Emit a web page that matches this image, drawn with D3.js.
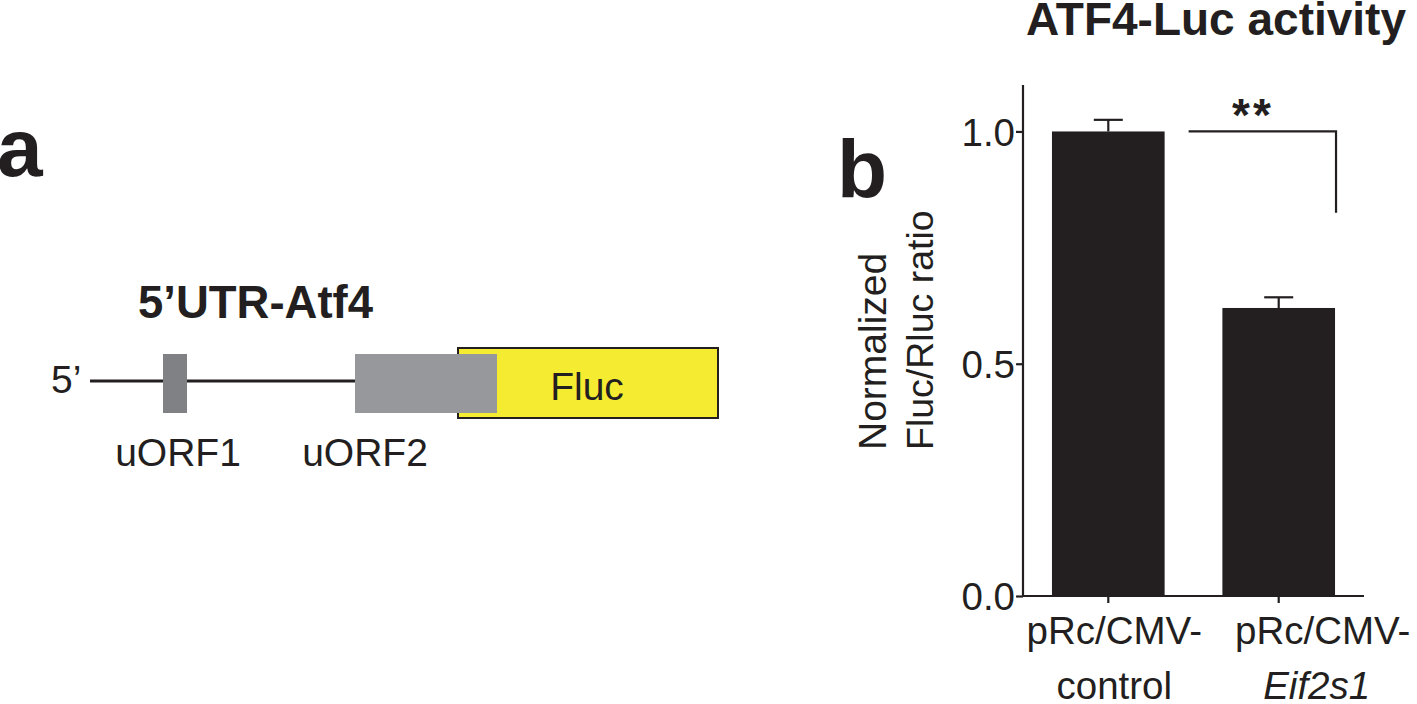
<!DOCTYPE html>
<html>
<head>
<meta charset="utf-8">
<script src="https://cdn.jsdelivr.net/npm/d3@7"></script>
<style>
  html, body { margin: 0; padding: 0; background: #ffffff; }
  svg { display: block; }
  text { font-family: "Liberation Sans", Arial, Helvetica, sans-serif; fill: #231f20; }
</style>
</head>
<body>
<svg id="chart" width="1417" height="704"></svg>
<script>
// ---------- data ----------
const categories = ["pRc/CMV-control", "pRc/CMV-Eif2s1"];
const labelLine1 = ["pRc/CMV-", "pRc/CMV-"];
const labelLine2 = ["control", "Eif2s1"];
const labelItalic = [false, true];
const values = [1.0, 0.62];
const errors = [0.025, 0.023];
const yTicks = [0.0, 0.5, 1.0];
const yTickLabels = ["0.0", "0.5", "1.0"];
const significance = "**";
const bracketLevel = 1.0;
const bracketDrop = 0.825;

// construct diagram (units along the reporter)
const constructNames = ["uORF1", "uORF2", "Fluc"];
const constructStart = [73, 265, 368];
const constructEnd = [97, 407, 628];
const lineStart = 0;
const lineEnd = 265;

// ---------- layout ----------
const ink = "#231f20";
const svg = d3.select("#chart");

// ===== Panel b: bar chart =====
const x = d3.scaleBand().domain(categories).range([1023, 1364])
  .paddingInner(0.339).paddingOuter(0.17);
const y = d3.scaleLinear().domain([0, 1.1]).range([596, 85]);

const g = svg.append("g");

// bars
g.selectAll("rect.bar").data(categories).join("rect")
  .attr("class", "bar")
  .attr("x", d => x(d))
  .attr("width", x.bandwidth())
  .attr("y", (d, i) => y(values[i]))
  .attr("height", (d, i) => y(0) - y(values[i]))
  .attr("fill", ink);

// error bars
const capW = 29;
categories.forEach((c, i) => {
  const cx = x(c) + x.bandwidth() / 2;
  g.append("line").attr("x1", cx).attr("x2", cx)
    .attr("y1", y(values[i])).attr("y2", y(values[i] + errors[i]))
    .attr("stroke", ink).attr("stroke-width", 2.2);
  g.append("line").attr("x1", cx - capW / 2).attr("x2", cx + capW / 2)
    .attr("y1", y(values[i] + errors[i])).attr("y2", y(values[i] + errors[i]))
    .attr("stroke", ink).attr("stroke-width", 2.2);
});

// y axis
const yAxis = d3.axisLeft(y).tickValues(yTicks)
  .tickFormat((d, i) => yTickLabels[i]).tickSize(7).tickSizeOuter(0);
const ya = g.append("g").attr("transform", "translate(1023,0)").call(yAxis);
ya.select(".domain").attr("stroke", ink).attr("stroke-width", 2.2)
  .attr("d", `M0,${y(1.1)}V${y(0) + 1}`);
ya.selectAll(".tick line").attr("stroke", ink).attr("stroke-width", 2.2);
ya.selectAll(".tick text").attr("font-size", 38.5).attr("fill", ink)
  .attr("font-family", '"Liberation Sans", Arial, sans-serif')
  .attr("x", -8).attr("dy", "0.36em");

// x axis
const xAxis = d3.axisBottom(x).tickSize(7).tickSizeOuter(0).tickFormat("");
const xa = g.append("g").attr("transform", `translate(0,${y(0)})`).call(xAxis);
xa.select(".domain").attr("stroke", ink).attr("stroke-width", 2.2)
  .attr("d", `M${1023 - 1},0H1364`);
xa.selectAll(".tick line").attr("stroke", ink).attr("stroke-width", 2.2);

// x labels
const labelDx = [6, 44];
categories.forEach((c, i) => {
  const cx = x(c) + x.bandwidth() / 2 + labelDx[i];
  g.append("text").attr("x", cx).attr("y", 644)
    .attr("text-anchor", "middle").attr("font-size", 38.5)
    .text(labelLine1[i]);
  g.append("text").attr("x", cx - (labelItalic[i] ? 6 : 0)).attr("y", 699)
    .attr("text-anchor", "middle").attr("font-size", 38.5)
    .attr("font-style", labelItalic[i] ? "italic" : "normal")
    .text(labelLine2[i]);
});

// y label
const yl = g.append("g").attr("transform", "translate(886,450) rotate(-90)");
yl.append("text").attr("x", 0).attr("y", 0).attr("font-size", 39).text("Normalized");
yl.append("text").attr("x", 0).attr("y", 47).attr("font-size", 37.5).text("Fluc/Rluc ratio");

// significance bracket
const bx1 = x(categories[0]) + x.bandwidth() + 24;
const bx2 = x(categories[1]) + x.bandwidth() + 1;
g.append("path")
  .attr("d", `M${bx1},${y(bracketLevel)}H${bx2}V${y(bracketDrop)}`)
  .attr("fill", "none").attr("stroke", ink).attr("stroke-width", 2.2);
g.append("text").attr("x", 1253).attr("y", 131)
  .attr("text-anchor", "middle").attr("font-size", 46).attr("font-weight", "bold")
  .attr("letter-spacing", 3)
  .text(significance);

// title
svg.append("text").attr("x", 1026).attr("y", 35)
  .attr("font-size", 46).attr("font-weight", "bold")
  .text("ATF4-Luc activity");

// panel letters
svg.append("text").attr("x", -3).attr("y", 176).attr("font-size", 82)
  .attr("font-weight", "bold").text("a");
svg.append("text").attr("x", 837).attr("y", 197).attr("font-size", 82)
  .attr("font-weight", "bold").text("b");

// ===== Panel a: construct diagram =====
const cx = d3.scaleLinear().domain([0, 628]).range([90, 718]);
const lineY = 381;
const d = svg.append("g");

d.append("text").attr("x", 138).attr("y", 318).attr("font-size", 45.5)
  .attr("font-weight", "bold").text("5\u2019UTR-Atf4");

d.append("text").attr("x", 51).attr("y", 393).attr("font-size", 39).text("5\u2019");

d.append("line").attr("x1", cx(lineStart)).attr("x2", cx(lineEnd))
  .attr("y1", lineY).attr("y2", lineY).attr("stroke", ink).attr("stroke-width", 3);

// Fluc box (drawn first, uORF2 overlaps it)
const fi = 2;
d.append("rect").attr("x", cx(constructStart[fi])).attr("y", 348)
  .attr("width", cx(constructEnd[fi]) - cx(constructStart[fi])).attr("height", 70)
  .attr("fill", "#f5eb31").attr("stroke", ink).attr("stroke-width", 2);
d.append("text").attr("x", (cx(constructStart[fi]) + cx(constructEnd[fi])) / 2 - 1)
  .attr("y", 400).attr("text-anchor", "middle").attr("font-size", 39)
  .text(constructNames[fi]);

const orfFill = ["#808184", "#97989b"];
[0, 1].forEach(i => {
  d.append("rect").attr("x", cx(constructStart[i])).attr("y", 354)
    .attr("width", cx(constructEnd[i]) - cx(constructStart[i])).attr("height", 59)
    .attr("fill", orfFill[i]);
});
const orfLabelX = [178, 365];
[0, 1].forEach(i => {
  d.append("text").attr("x", orfLabelX[i]).attr("y", 466)
    .attr("text-anchor", "middle").attr("font-size", 39)
    .text(constructNames[i]);
});
</script>
</body>
</html>
